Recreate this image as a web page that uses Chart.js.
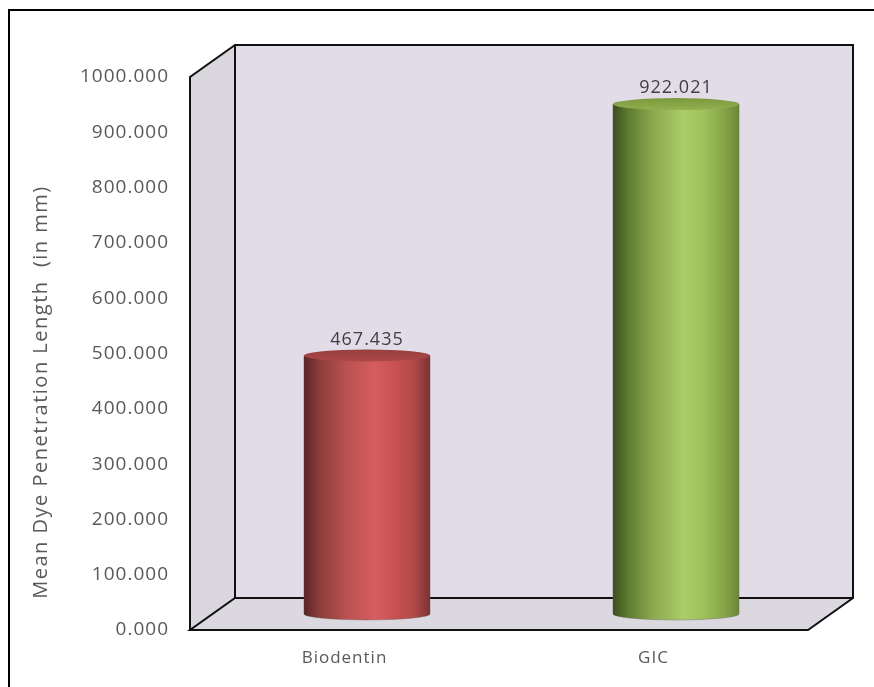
<!DOCTYPE html>
<html>
<head>
<meta charset="utf-8">
<script src="https://cdn.jsdelivr.net/npm/chart.js@4.4.1/dist/chart.umd.min.js"></script>
<style>
  html, body { margin: 0; padding: 0; background: #ffffff; }
  #wrap { width: 874px; height: 687px; }
</style>
</head>
<body>
<div id="wrap"><canvas id="dyeChart" width="874" height="687"></canvas></div>
<script>
const categories = ["Biodentin", "GIC"];
const meanValues = [467.435, 922.021];
const yMin = 0;
const yMax = 1000;
const yStep = 100;
const axisTitle = "Mean Dye Penetration Length  (in mm)";

// depth offset of the fake 3D box
const DX = 45;
const DY = -32;

const cylinderColors = [
  {
    body: [[0, "#5a2325"], [0.12, "#8c3c3c"], [0.32, "#b84f4f"], [0.56, "#d55d5d"], [0.72, "#c95151"], [0.88, "#b04848"], [1, "#7c3131"]],
    top: ["#983e3e", "#ad4848"],
  },
  {
    body: [[0, "#3a4e1c"], [0.12, "#5f7c30"], [0.32, "#8ca94f"], [0.56, "#abcd67"], [0.72, "#9fc05b"], [0.88, "#87a549"], [1, "#6b8738"]],
    top: ["#7c983e", "#92b150"],
  },
];

const boxPlugin = {
  id: "box3d",
  beforeDraw(chart) {
    // Calibri-like width for the axis labels
    chart.ctx.letterSpacing = "1px";
  },
  beforeDatasetsDraw(chart) {
    const { ctx, chartArea } = chart;
    const l = chartArea.left, r = chartArea.right, t = chartArea.top, b = chartArea.bottom;
    ctx.save();

    // outer frame (right and bottom run off the page)
    ctx.strokeStyle = "#000";
    ctx.lineWidth = 2;
    ctx.strokeRect(9, 10, 900, 700);

    // side wall
    ctx.fillStyle = "#d9d7dd";
    ctx.beginPath();
    ctx.moveTo(l, t); ctx.lineTo(l + DX, t + DY); ctx.lineTo(l + DX, b + DY); ctx.lineTo(l, b);
    ctx.closePath(); ctx.fill();

    // back wall
    ctx.fillStyle = "#e1dce7";
    ctx.fillRect(l + DX, t + DY, r - l, b - t);

    // floor
    ctx.fillStyle = "#dbd9df";
    ctx.beginPath();
    ctx.moveTo(l, b); ctx.lineTo(l + DX, b + DY); ctx.lineTo(r + DX, b + DY); ctx.lineTo(r, b);
    ctx.closePath(); ctx.fill();

    ctx.strokeStyle = "#111";
    ctx.lineWidth = 2;
    ctx.lineJoin = "miter";
    ctx.beginPath();
    ctx.moveTo(l, b); ctx.lineTo(l, t); ctx.lineTo(l + DX, t + DY);
    ctx.lineTo(r + DX, t + DY); ctx.lineTo(r + DX, b + DY); ctx.lineTo(r, b); ctx.lineTo(l, b);
    ctx.lineTo(l + DX, b + DY); ctx.lineTo(r + DX, b + DY);
    ctx.moveTo(l + DX, t + DY); ctx.lineTo(l + DX, b + DY);
    ctx.stroke();

    // axis title
    ctx.fillStyle = "#595959";
    ctx.font = "20px 'Open Sans'";
    ctx.letterSpacing = "1.5px";
    ctx.textAlign = "center";
    ctx.textBaseline = "middle";
    ctx.translate(41, 392);
    ctx.rotate(-Math.PI / 2);
    ctx.fillText(axisTitle, 0, 0);
    ctx.restore();
  },
  afterDatasetsDraw(chart) {
    const { ctx } = chart;
    const meta = chart.getDatasetMeta(0);
    const ry = 6;
    meta.data.forEach((bar, i) => {
      const cx = bar.x + DX / 2;
      const topY = bar.y + DY / 2;
      const baseY = bar.base + DY / 2;
      const rx = bar.width / 2;
      const colors = cylinderColors[i];
      ctx.save();

      const grad = ctx.createLinearGradient(cx - rx, 0, cx + rx, 0);
      colors.body.forEach(([stop, c]) => grad.addColorStop(stop, c));
      ctx.fillStyle = grad;
      ctx.beginPath();
      ctx.moveTo(cx - rx, topY);
      ctx.lineTo(cx - rx, baseY);
      ctx.ellipse(cx, baseY, rx, ry, 0, Math.PI, 0, true);
      ctx.lineTo(cx + rx, topY);
      ctx.closePath();
      ctx.fill();
      ctx.strokeStyle = "rgba(90,90,90,0.35)";
      ctx.lineWidth = 1;
      ctx.stroke();

      const topGrad = ctx.createLinearGradient(0, topY - ry, 0, topY + ry);
      topGrad.addColorStop(0, colors.top[0]);
      topGrad.addColorStop(1, colors.top[1]);
      ctx.fillStyle = topGrad;
      ctx.beginPath();
      ctx.ellipse(cx, topY, rx, ry, 0, 0, Math.PI * 2);
      ctx.fill();

      // value label
      ctx.fillStyle = "#404040";
      ctx.font = "18px 'Open Sans'";
      ctx.letterSpacing = "1px";
      ctx.textAlign = "center";
      ctx.textBaseline = "alphabetic";
      ctx.fillText(meanValues[i].toFixed(3), cx, topY - ry - 5);
      ctx.restore();
    });
  },
};

new Chart(document.getElementById("dyeChart"), {
  type: "bar",
  data: {
    labels: categories,
    datasets: [
      {
        data: meanValues,
        backgroundColor: "rgba(0,0,0,0)",
        borderWidth: 0,
        categoryPercentage: 1,
        barPercentage: 0.408,
      },
    ],
  },
  options: {
    responsive: false,
    animation: false,
    layout: { padding: { left: 0, right: 66, top: 77, bottom: 0 } },
    plugins: {
      legend: { display: false },
      tooltip: { enabled: false },
    },
    scales: {
      x: {
        grid: { display: false, drawTicks: false },
        border: { display: false },
        ticks: {
          color: "#595959",
          font: { family: "'Open Sans'", size: 17 },
          padding: 18,
        },
        afterFit(scale) { scale.height = 57; },
      },
      y: {
        min: yMin,
        max: yMax,
        grid: { display: false, drawTicks: false },
        border: { display: false },
        ticks: {
          stepSize: yStep,
          color: "#595959",
          font: { family: "'Open Sans'", size: 19 },
          padding: 21,
          callback: (v) => Number(v).toFixed(3),
        },
        afterFit(scale) { scale.width = 190; },
      },
    },
  },
  plugins: [boxPlugin],
});
</script>
</body>
</html>
